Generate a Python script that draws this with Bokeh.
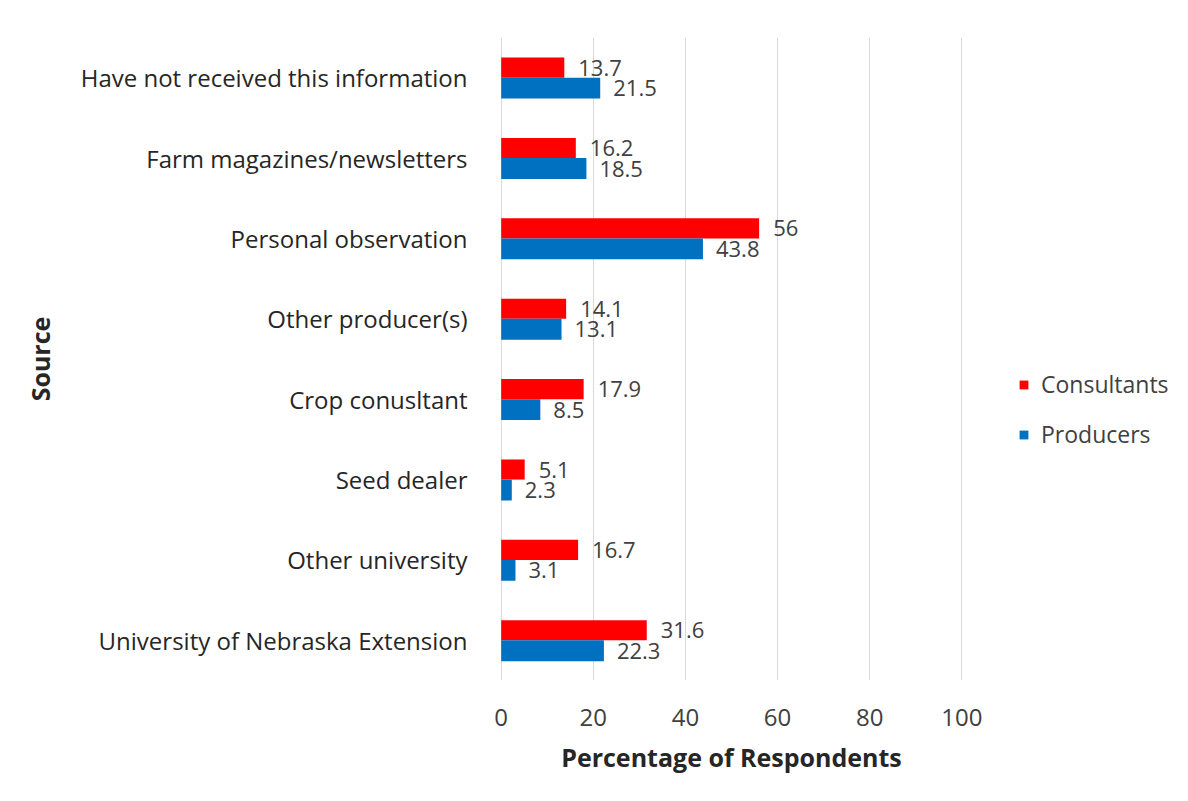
from bokeh.plotting import figure
from bokeh.models import ColumnDataSource, Legend, LegendItem, FactorRange, Range1d, FixedTicker
from bokeh.transform import dodge
from bokeh.core.properties import value
from bokeh.embed import file_html
from bokeh.resources import INLINE

sources = ["Have not received this information", "Farm magazines/newsletters",
           "Personal observation", "Other producer(s)", "Crop conusltant",
           "Seed dealer", "Other university", "University of Nebraska Extension"]
consultants = [13.7, 16.2, 56, 14.1, 17.9, 5.1, 16.7, 31.6]
producers = [21.5, 18.5, 43.8, 13.1, 8.5, 2.3, 3.1, 22.3]
x_ticks = [0, 20, 40, 60, 80, 100]

FONT = "Open Sans"

src = ColumnDataSource(dict(
    source=sources,
    consultants=consultants,
    producers=producers,
    c_lab=[f"{v:g}" for v in consultants],
    p_lab=[f"{v:g}" for v in producers],
))

p = figure(frame_width=462, frame_height=643, output_backend="svg", toolbar_location=None,
           y_range=FactorRange(factors=list(reversed(sources))),
           x_range=Range1d(-0.15, 100.15),
           min_border_left=500, min_border_right=218, min_border_top=37, min_border_bottom=113)

r_c = p.hbar(y=dodge("source", 0.125, range=p.y_range), right="consultants", left=0, height=0.25,
             source=src, color="#FF0000", line_color=None)
r_p = p.hbar(y=dodge("source", -0.13, range=p.y_range), right="producers", left=0, height=0.26,
             source=src, color="#0070C0", line_color=None)

p.text(x="consultants", y=dodge("source", 0.125, range=p.y_range), text="c_lab", source=src,
       x_offset=14, text_baseline="middle", text_align="left", text_font_size="22px",
       text_color="#404040", text_font=value(FONT))
p.text(x="producers", y=dodge("source", -0.13, range=p.y_range), text="p_lab", source=src,
       x_offset=13, text_baseline="middle", text_align="left", text_font_size="22px",
       text_color="#404040", text_font=value(FONT))

p.outline_line_color = None
p.border_fill_color = "white"

p.xgrid.grid_line_color = "#D9D9D9"
p.ygrid.grid_line_color = None
p.xaxis.ticker = FixedTicker(ticks=x_ticks)
p.xaxis.axis_line_color = None
p.xaxis.major_tick_line_color = None
p.xaxis.minor_tick_line_color = None
p.xaxis.major_label_text_font = FONT
p.xaxis.major_label_text_font_size = "24px"
p.xaxis.major_label_text_color = "#404040"
p.xaxis.major_label_standoff = 22
p.xaxis.axis_label = "Percentage of Respondents"
p.xaxis.axis_label_text_font = FONT
p.xaxis.axis_label_text_font_style = "bold"
p.xaxis.axis_label_text_font_size = "25px"
p.xaxis.axis_label_text_color = "#262626"
p.xaxis.axis_label_standoff = 11

p.yaxis.axis_line_color = None
p.yaxis.major_tick_line_color = None
p.yaxis.minor_tick_line_color = None
p.yaxis.major_label_text_font = FONT
p.yaxis.major_label_text_font_size = "24px"
p.yaxis.major_label_text_color = "#262626"
p.yaxis.major_label_standoff = 27
p.yaxis.axis_label = "Source"
p.yaxis.axis_label_text_font = FONT
p.yaxis.axis_label_text_font_style = "bold"
p.yaxis.axis_label_text_font_size = "25px"
p.yaxis.axis_label_text_color = "#262626"
p.yaxis.axis_label_standoff = 21

legend = Legend(items=[LegendItem(label="Consultants", renderers=[r_c]),
                       LegendItem(label="Producers", renderers=[r_p])],
                location=(56, 230), orientation="vertical",
                label_text_font=FONT, label_text_font_size="23px", label_text_color="#404040",
                glyph_width=11, glyph_height=11, spacing=18, border_line_color=None,
                background_fill_alpha=0, margin=0, padding=0, label_standoff=12)
p.add_layout(legend, "right")

html = file_html(p, INLINE)
open("out.html", "w").write(html)
